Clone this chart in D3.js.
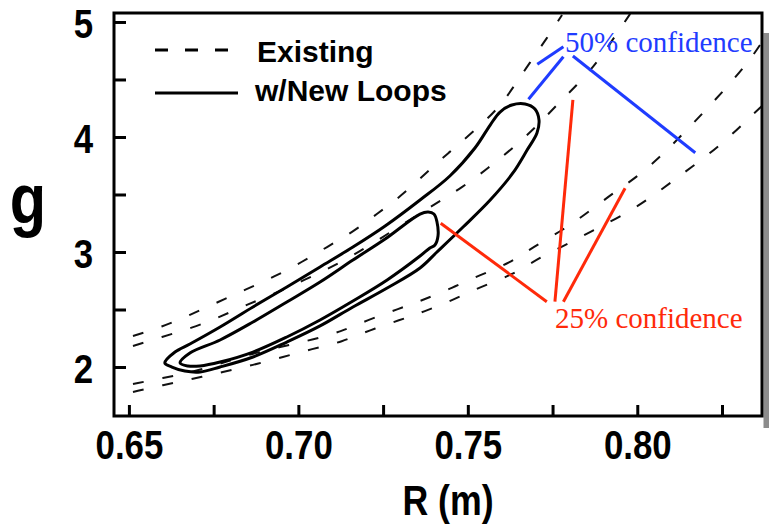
<!DOCTYPE html>
<html>
<head>
<meta charset="utf-8">
<script src="https://cdn.jsdelivr.net/npm/d3@7"></script>
<style>
  html, body { margin: 0; padding: 0; background: #fff; }
  svg { display: block; }
</style>
</head>
<body>
<svg id="chart" width="769" height="529"></svg>
<script>
// ---------------- DATA ----------------
// axis ticks
const xTicks = [0.65, 0.675, 0.70, 0.725, 0.75, 0.775, 0.80, 0.825];
const xTickLabels = { 0.65: "0.65", 0.70: "0.70", 0.75: "0.75", 0.80: "0.80" };
const yTicks = [2, 2.5, 3, 3.5, 4, 4.5, 5];
const yTickLabels = { 2: "2", 3: "3", 4: "4", 5: "5" };

// "Existing" contours (dashed), each [R, g]
const existing50Upper = [[0.6512,2.270],[0.6597,2.348],[0.6680,2.452],[0.6763,2.565],[0.6848,2.678],[0.6928,2.783],[0.7011,2.913],[0.7084,3.043],[0.7161,3.174],[0.7235,3.339],[0.7300,3.478],[0.7374,3.678],[0.7442,3.861],[0.7512,4.035],[0.7589,4.243],[0.7633,4.426],[0.7684,4.652],[0.7734,4.861],[0.7778,5.061]];
const existing25Upper = [[0.6512,2.183],[0.6597,2.261],[0.6686,2.339],[0.6769,2.435],[0.6851,2.548],[0.6937,2.643],[0.7099,2.870],[0.7176,2.991],[0.7397,3.409],[0.7486,3.565],[0.7560,3.730],[0.7630,3.896],[0.7698,4.078],[0.7757,4.261],[0.7822,4.452],[0.7881,4.643],[0.7943,4.913],[0.7979,5.070]];
const existing25Lower = [[0.6512,1.852],[0.6600,1.904],[0.6689,1.957],[0.6777,2.035],[0.6866,2.122],[0.7040,2.235],[0.7123,2.304],[0.7205,2.409],[0.7294,2.504],[0.7368,2.583],[0.7453,2.687],[0.7536,2.800],[0.7625,2.904],[0.7692,3.043],[0.7781,3.191],[0.7852,3.339],[0.7929,3.513],[0.7999,3.652],[0.8067,3.826],[0.8126,4.000],[0.8194,4.209],[0.8265,4.435],[0.8333,4.670],[0.8368,4.826]];
const existing50Lower = [[0.6512,1.783],[0.6600,1.843],[0.6689,1.896],[0.6777,1.957],[0.6866,2.017],[0.6955,2.087],[0.7040,2.157],[0.7129,2.217],[0.7211,2.322],[0.7300,2.409],[0.7368,2.478],[0.7456,2.583],[0.7536,2.696],[0.7633,2.800],[0.7713,2.957],[0.7802,3.078],[0.7870,3.191],[0.7949,3.304],[0.8029,3.452],[0.8097,3.600],[0.8177,3.774],[0.8253,3.948],[0.8324,4.148],[0.8368,4.270]];

// "w/New Loops" contours (solid, closed), each [R, g]
const newLoops50 = [[0.6606,2.035],[0.6636,2.130],[0.6680,2.200],[0.6769,2.348],[0.6866,2.522],[0.6966,2.696],[0.7064,2.870],[0.7161,3.043],[0.7256,3.226],[0.7359,3.452],[0.7447,3.661],[0.7521,3.904],[0.7566,4.104],[0.7595,4.217],[0.7630,4.278],[0.7669,4.287],[0.7698,4.243],[0.7710,4.148],[0.7704,4.035],[0.7675,3.887],[0.7633,3.687],[0.7566,3.452],[0.7486,3.217],[0.7409,3.000],[0.7359,2.861],[0.7262,2.687],[0.7161,2.522],[0.7064,2.357],[0.6966,2.217],[0.6866,2.087],[0.6769,2.000],[0.6710,1.957],[0.6665,1.965],[0.6627,2.000]];
const newLoops25 = [[0.6651,2.035],[0.6680,2.122],[0.6769,2.235],[0.6866,2.391],[0.6966,2.565],[0.7064,2.739],[0.7161,2.930],[0.7256,3.113],[0.7359,3.330],[0.7383,3.348],[0.7400,3.330],[0.7409,3.261],[0.7412,3.139],[0.7403,3.061],[0.7388,3.035],[0.7359,2.965],[0.7262,2.757],[0.7161,2.574],[0.7064,2.409],[0.6966,2.261],[0.6866,2.130],[0.6769,2.043],[0.6710,2.009],[0.6674,2.009]];

// annotations (pointer segments in data units)
const blueLabel = "50% confidence";
const redLabel = "25% confidence";
const bluePointers = [[[0.7705,4.632],[0.7782,4.785]],[[0.7679,4.328],[0.7782,4.698]],[[0.7810,4.704],[0.8171,3.863]]];
const redPointers = [[[0.7420,3.250],[0.7733,2.568]],[[0.7810,4.322],[0.7757,2.568]],[[0.7964,3.554],[0.7782,2.568]]];

const legendLabels = ["Existing", "w/New Loops"];

// ---------------- CHART ----------------
const svg = d3.select("#chart");
const FONT = "'Liberation Sans', Arial, Helvetica, sans-serif";
const SQ = 0.85; // horizontal condensing of the Helvetica-like labels

const x = d3.scaleLinear().domain([0.6456, 0.8368]).range([114, 762]);
const y = d3.scaleLinear().domain([1.574, 5.078]).range([416, 13]);

// drop shadow strip on the right
svg.append("rect")
  .attr("x", x.range()[1] + 1.5).attr("y", y.range()[1] + 20)
  .attr("width", 10).attr("height", y.range()[0] - y.range()[1] - 8)
  .attr("fill", "#8c8c8c");

svg.append("rect")
  .attr("x", x.range()[0]).attr("y", y.range()[1])
  .attr("width", x.range()[1] - x.range()[0])
  .attr("height", y.range()[0] - y.range()[1])
  .attr("fill", "#fff");

svg.append("defs").append("clipPath").attr("id", "plotclip")
  .append("rect")
  .attr("x", x.range()[0]).attr("y", y.range()[1])
  .attr("width", x.range()[1] - x.range()[0])
  .attr("height", y.range()[0] - y.range()[1]);

const plot = svg.append("g").attr("clip-path", "url(#plotclip)");

const openLine = d3.line().x(d => x(d[0])).y(d => y(d[1])).curve(d3.curveBasis);
const closedLine = d3.line().x(d => x(d[0])).y(d => y(d[1])).curve(d3.curveCatmullRomClosed.alpha(0.5));

[existing50Upper, existing25Upper, existing25Lower, existing50Lower].forEach(s => {
  plot.append("path").attr("d", openLine(s))
    .attr("fill", "none").attr("stroke", "#111").attr("stroke-width", 2)
    .attr("stroke-dasharray", "11,19");
});

[newLoops50, newLoops25].forEach(s => {
  plot.append("path").attr("d", closedLine(s))
    .attr("fill", "none").attr("stroke", "#000").attr("stroke-width", 3)
    .attr("stroke-linejoin", "round");
});

// frame
svg.append("rect")
  .attr("x", x.range()[0]).attr("y", y.range()[1])
  .attr("width", x.range()[1] - x.range()[0])
  .attr("height", y.range()[0] - y.range()[1])
  .attr("fill", "none").attr("stroke", "#000").attr("stroke-width", 3);

// axes
const xAxis = d3.axisBottom(x).tickValues(xTicks)
  .tickSizeInner(-11).tickSizeOuter(0).tickPadding(14)
  .tickFormat(d => xTickLabels[d] || "");
const gx = svg.append("g").attr("transform", `translate(0,${y.range()[0]})`).call(xAxis);

const yAxis = d3.axisLeft(y).tickValues(yTicks)
  .tickSizeInner(-12).tickSizeOuter(0).tickPadding(21 / SQ)
  .tickFormat(d => yTickLabels[d] || "");
const gy = svg.append("g").attr("transform", `translate(${x.range()[0]},0)`).call(yAxis);

[gx, gy].forEach(g => {
  g.select(".domain").remove();
  g.selectAll(".tick line").attr("stroke", "#000").attr("stroke-width", 3);
  g.selectAll(".tick text")
    .attr("font-family", FONT).attr("font-weight", "bold")
    .attr("font-size", 41).attr("fill", "#000")
    .attr("transform", `scale(${SQ},1)`);
});
gy.selectAll(".tick text").attr("dy", "0.39em");

// axis titles
svg.append("text")
  .attr("transform", `translate(448,515) scale(${SQ},1)`)
  .attr("text-anchor", "middle")
  .attr("font-family", FONT).attr("font-weight", "bold").attr("font-size", 42)
  .text("R (m)");
svg.append("text")
  .attr("transform", `translate(28,223) scale(${SQ},1)`)
  .attr("text-anchor", "middle")
  .attr("font-family", FONT).attr("font-weight", "bold").attr("font-size", 70)
  .text("g");

// legend
const legend = svg.append("g");
legend.append("line").attr("x1", 155).attr("x2", 229).attr("y1", 50).attr("y2", 50)
  .attr("stroke", "#000").attr("stroke-width", 3).attr("stroke-dasharray", "13,17");
legend.append("line").attr("x1", 155).attr("x2", 238).attr("y1", 93).attr("y2", 93)
  .attr("stroke", "#000").attr("stroke-width", 3);
legend.append("text").attr("x", 257).attr("y", 62)
  .attr("font-family", FONT).attr("font-weight", "bold").attr("font-size", 30)
  .text(legendLabels[0]);
legend.append("text").attr("x", 255).attr("y", 101)
  .attr("font-family", FONT).attr("font-weight", "bold").attr("font-size", 30)
  .text(legendLabels[1]);

// annotations
const BLUE = "#1f3cff", RED = "#ff2a0a";
bluePointers.forEach(p => {
  svg.append("line").attr("x1", x(p[0][0])).attr("y1", y(p[0][1]))
    .attr("x2", x(p[1][0])).attr("y2", y(p[1][1]))
    .attr("stroke", BLUE).attr("stroke-width", 3);
});
redPointers.forEach(p => {
  svg.append("line").attr("x1", x(p[0][0])).attr("y1", y(p[0][1]))
    .attr("x2", x(p[1][0])).attr("y2", y(p[1][1]))
    .attr("stroke", RED).attr("stroke-width", 3);
});
svg.append("text").attr("x", 565).attr("y", 52)
  .attr("font-family", "'Liberation Serif', 'Times New Roman', serif").attr("font-size", 29)
  .attr("fill", BLUE).text(blueLabel);
svg.append("text").attr("x", 555).attr("y", 328)
  .attr("font-family", "'Liberation Serif', 'Times New Roman', serif").attr("font-size", 29)
  .attr("fill", RED).text(redLabel);
</script>
</body>
</html>
